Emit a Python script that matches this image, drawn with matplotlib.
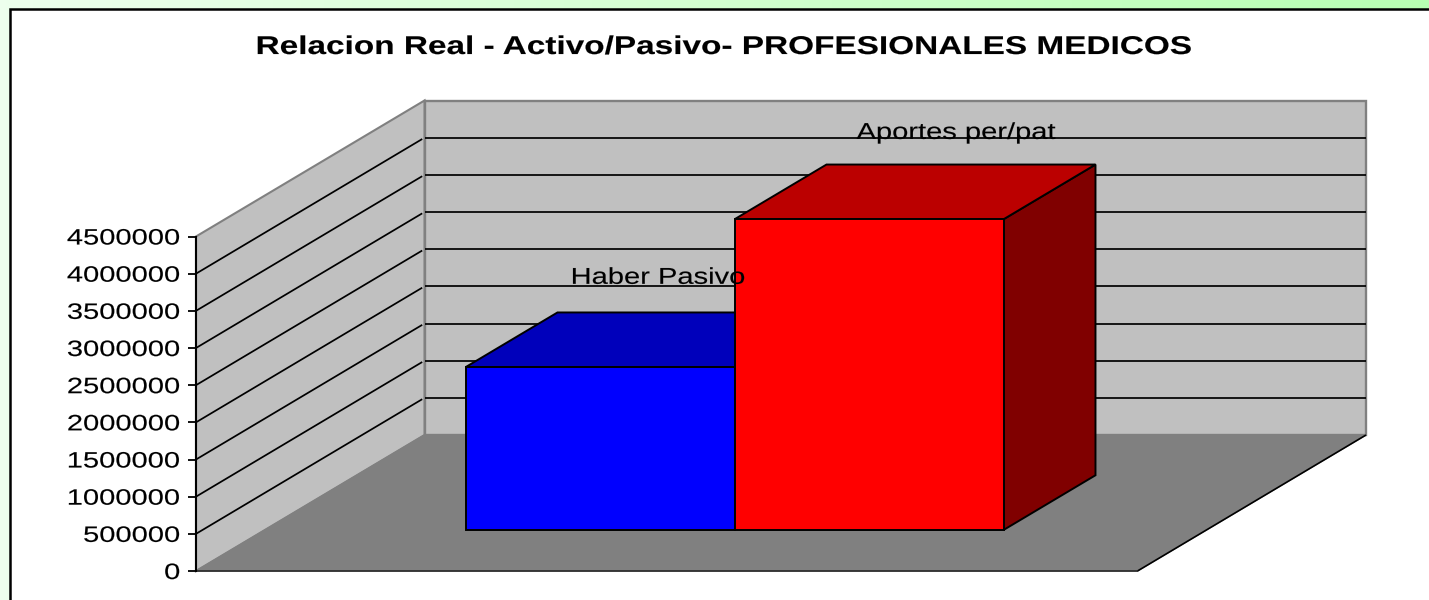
import numpy as np
import matplotlib
matplotlib.use("Agg")
import matplotlib.pyplot as plt
from matplotlib.patches import Polygon
from matplotlib.transforms import Affine2D
from matplotlib import patheffects as pe

# ---- data ----
title = "Relacion Real - Activo/Pasivo- PROFESIONALES MEDICOS"
series_names = ["Haber Pasivo", "Aportes per/pat"]
series_values = [2190000, 4180000]
front_colors = ["#0000FF", "#FF0000"]
top_colors = ["#0000BB", "#BB0000"]
side_colors = ["#000080", "#800000"]
y_ticks = [0, 500000, 1000000, 1500000, 2000000, 2500000, 3000000, 3500000, 4000000, 4500000]

W, H = 1429, 600
BAR_W = 1 / 3.5          # width of one bar within the single category
D0, D1 = 0.302, 0.704    # bar front and back along the chart depth
YMAX = 4500000
label_shift = [(12, 56), (41, 53)]   # manual label placement, pixels from the bar top

plt.rcParams["font.family"] = ["Liberation Sans", "DejaVu Sans"]
fig = plt.figure(figsize=(W / 100, H / 100), dpi=100)


class Stretch(pe.AbstractPathEffect):
    """Widen glyph outlines about one anchor (the reference text is stretched)."""
    def __init__(self, sx, anchor="center", stroke=0.1):
        super().__init__()
        self.sx, self.anchor, self.stroke = sx, anchor, stroke

    def draw_path(self, renderer, gc, tpath, affine, rgbFace=None):
        ext = tpath.get_extents()
        ax_ = {"center": (ext.x0 + ext.x1) / 2, "right": ext.x1, "left": ext.x0}[self.anchor]
        t = Affine2D().translate(-ax_, 0).scale(self.sx, 1).translate(ax_, 0) + affine
        g = renderer.new_gc()
        g.copy_properties(gc)
        g.set_foreground("black")
        g.set_linewidth(self.stroke)
        renderer.draw_path(g, tpath, t, rgbFace)
        g.restore()


# page background: pale green gradient
bg = fig.add_axes([0, 0, 1, 1], zorder=0)
grad = np.linspace(0, 1, 256).reshape(1, -1, 1)
c0, c1 = np.array([0.93, 1.0, 0.93]), np.array([0.72, 1.0, 0.70])
bg.imshow(c0 + (c1 - c0) * grad, aspect="auto", extent=(0, 1, 0, 1))
bg.axis("off")

# white chart area with its black frame (runs off the right and bottom edges)
fx0, fy0 = 10 / W, 1 - 9 / H
bg.add_patch(Polygon([(fx0, -0.1), (fx0, fy0), (1.1, fy0), (1.1, -0.1)], closed=True,
                     fc="white", ec="black", lw=1.8, zorder=2))
bg.set_xlim(0, 1); bg.set_ylim(0, 1)

# value axes = the front plane of the 3-D box
px0, px1, py0, py1 = 196, 1137.5, 571, 236.5
ax = fig.add_axes([px0 / W, 1 - py0 / H, (px1 - px0) / W, (py0 - py1) / H], zorder=1)
ax.set_xlim(0, 1)
ax.set_ylim(0, YMAX)
ax.patch.set_alpha(0)
DX = 228.5 / (px1 - px0)             # depth shift in x-axis units
DY = 136 / (py0 - py1) * YMAX        # depth shift in y-axis units


def proj(x, v, d):
    return (x + d * DX, v + d * DY)


def face(points, **kw):
    kw.setdefault("joinstyle", "miter")
    p = Polygon([proj(*q) for q in points], closed=True, clip_on=False, **kw)
    ax.add_patch(p)


def seg(a, b, **kw):
    pa, pb = proj(*a), proj(*b)
    ax.plot([pa[0], pb[0]], [pa[1], pb[1]], clip_on=False, solid_capstyle="butt", **kw)


# walls and floor
WALL, FLOOR, EDGE = "#C0C0C0", "#808080", "#808080"
face([(0, 0, 1), (1, 0, 1), (1, YMAX, 1), (0, YMAX, 1)], fc=WALL, ec=EDGE, lw=1.7, zorder=1)
face([(0, 0, 0), (0, 0, 1), (0, YMAX, 1), (0, YMAX, 0)], fc=WALL, ec=EDGE, lw=1.5, zorder=1)
face([(0, 0, 0), (1, 0, 0), (1, 0, 1), (0, 0, 1)], fc=FLOOR, ec=EDGE, lw=1, zorder=1.5)
for v in y_ticks[1:-1]:
    seg((0, v, 0), (0, v, 0.99), color="black", lw=1.25, zorder=2)
    seg((0, v, 1), (1, v, 1), color="black", lw=1.25, zorder=2)
seg((1, 0, 0), (1, 0, 1), color="black", lw=1.2, zorder=2)
seg((0, 0, 0), (1, 0, 0), color="#202020", lw=1.1, zorder=2)

# bars
x_left = 0.5 - BAR_W - 0.0012
for i, (val, fc, tc, sc) in enumerate(zip(series_values, front_colors, top_colors, side_colors)):
    a, b = x_left + i * BAR_W, x_left + (i + 1) * BAR_W
    z = 3 + i
    face([(b, 0, D0), (b, 0, D1), (b, val, D1), (b, val, D0)], fc=sc, ec="black", lw=1.4, zorder=z)
    face([(a, val, D0), (b, val, D0), (b, val, D1), (a, val, D1)], fc=tc, ec="black", lw=1.4, zorder=z)
    face([(a, 0, D0), (b, 0, D0), (b, val, D0), (a, val, D0)], fc=fc, ec="black", lw=1.4, zorder=z)
    # data label above the middle of the bar top
    px = proj((a + b) / 2, val, (D0 + D1) / 2)
    ax.annotate(series_names[i], xy=px, xytext=label_shift[i], textcoords="offset pixels",
                ha="center", va="baseline", fontsize=16.5, color="black", annotation_clip=False,
                zorder=8, path_effects=[Stretch(1.27, "center")])

# axes furniture
for s in ("top", "right", "bottom"):
    ax.spines[s].set_visible(False)
ax.spines["left"].set_linewidth(1.5)
ax.spines["left"].set_zorder(6)
ax.set_xticks([])
ax.set_yticks(y_ticks)
ax.set_yticklabels([str(v) for v in y_ticks], fontsize=16,
                   path_effects=[Stretch(1.31, "right")])
ax.tick_params(axis="y", length=6, width=1.3, pad=5.5)

fig.text(725 / W, 1 - 54 / H, title, ha="center", va="baseline", fontsize=18.5,
         fontweight="bold", color="black", zorder=5, path_effects=[Stretch(1.298, "center", 0.1)])

fig.savefig("out.png", dpi=100)
